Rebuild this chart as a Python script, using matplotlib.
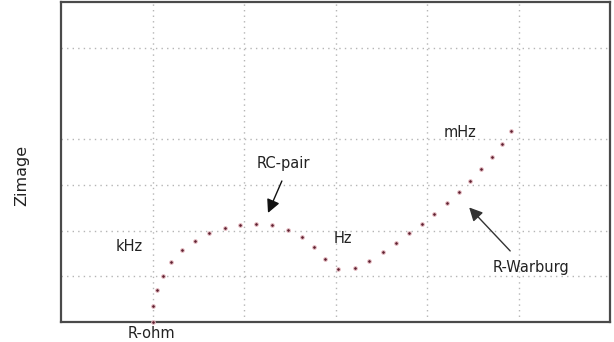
import matplotlib
matplotlib.use("Agg")
import matplotlib.pyplot as plt

# Nyquist-like impedance data
z_real = [1.00, 1.01, 1.05, 1.11, 1.20, 1.32, 1.46, 1.62, 1.79, 1.96, 2.13, 2.31,
          2.48, 2.63, 2.77, 2.89, 3.03, 3.21, 3.37, 3.52, 3.66, 3.80, 3.95, 4.08,
          4.22, 4.35, 4.47, 4.59, 4.71, 4.82, 4.92]
z_imag = [0.00, 0.34, 0.69, 1.01, 1.32, 1.57, 1.77, 1.95, 2.06, 2.12, 2.14, 2.12,
          2.02, 1.86, 1.63, 1.37, 1.17, 1.18, 1.34, 1.53, 1.72, 1.94, 2.14, 2.37,
          2.60, 2.84, 3.08, 3.34, 3.61, 3.89, 4.17]
x_grid = [1, 2, 3, 4, 5]
y_grid = [1, 2, 3, 4, 6]

fig = plt.figure(figsize=(6.14, 3.42), dpi=100)
ax = fig.add_axes([61/614, 1-322/342, 549/614, 320/342])
ax.set_xlim(0, 6)
ax.set_ylim(0, 7)

for xv in x_grid:
    ax.axvline(xv, color="#b5b5b5", lw=1.0, ls=(0, (1, 3)), zorder=1)
for yv in y_grid:
    ax.axhline(yv, color="#b5b5b5", lw=1.0, ls=(0, (1, 3)), zorder=1)

ax.scatter(z_real, z_imag, s=7, color="#5e2030", edgecolors="#ecc2c8",
           linewidths=0.7, zorder=3, clip_on=False)

for sp in ax.spines.values():
    sp.set_color("#4a4a4a")
    sp.set_linewidth(1.6)
ax.set_xticks([])
ax.set_yticks([])

fs = 10.5
ax.text(0.743, 1.66, "kHz", ha="center", va="center", fontsize=fs, color="#222222")
ax.text(2.426, 3.47, "RC-pair", ha="center", va="center", fontsize=fs, color="#222222")
ax.text(3.08, 1.83, "Hz", ha="center", va="center", fontsize=fs, color="#222222")
ax.text(4.36, 4.15, "mHz", ha="center", va="center", fontsize=fs, color="#222222")
ax.text(5.14, 1.20, "R-Warburg", ha="center", va="center", fontsize=fs, color="#222222")
ax.text(0.984, -0.25, "R-ohm", ha="center", va="center", fontsize=fs,
        color="#222222", clip_on=False)

ax.annotate("", xy=(2.25, 2.33), xytext=(2.426, 3.14),
            arrowprops=dict(arrowstyle="-|>,head_length=0.8,head_width=0.4",
                            color="#111111", lw=1.0))
ax.annotate("", xy=(4.44, 2.55), xytext=(4.93, 1.51),
            arrowprops=dict(arrowstyle="-|>,head_length=0.8,head_width=0.4",
                            color="#333333", lw=1.0))

fig.text(22/614, 1-175/342, "Zimage", rotation=90, ha="center", va="center",
         fontsize=11.5, color="#222222")

fig.savefig("out.png", dpi=100)
